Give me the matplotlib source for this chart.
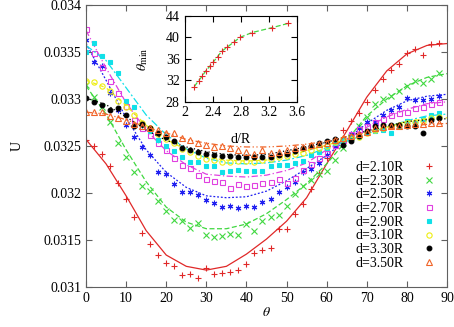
import numpy as np
import matplotlib
matplotlib.use("Agg")
from matplotlib import pyplot as plt
from matplotlib.ticker import FormatStrFormatter

plt.rcParams['font.family'] = ['Liberation Serif', 'DejaVu Serif']
plt.rcParams['font.size'] = 10
plt.rcParams['mathtext.fontset'] = 'stix'

# measured points, theta = 0, 2, ..., 88
theta = np.arange(0, 89, 2)
u_210 = [0.03256, 0.03250, 0.03242, 0.03229, 0.03211, 0.03194, 0.03174, 0.03157, 0.03146, 0.03134,
         0.03126, 0.03122, 0.03113, 0.03114, 0.03110, 0.03120, 0.03114, 0.03115, 0.03116, 0.03118,
         0.03124, 0.03136, 0.03139, 0.03141, 0.03162, 0.03162, 0.03178, 0.03188, 0.03204, 0.03221,
         0.03237, 0.03253, 0.03267, 0.03277, 0.03285, 0.03297, 0.03310, 0.03321, 0.03331, 0.03337,
         0.03349, 0.03353, 0.03347, 0.03359, 0.03360]
u_230 = [0.03315, 0.03302, 0.03291, 0.03276, 0.03253, 0.03238, 0.03222, 0.03207, 0.03202, 0.03191,
         0.03181, 0.03171, 0.03170, 0.03163, 0.03168, 0.03155, 0.03153, 0.03154, 0.03156, 0.03155,
         0.03167, 0.03160, 0.03170, 0.03174, 0.03177, 0.03186, 0.03199, 0.03207, 0.03214, 0.03220,
         0.03223, 0.03235, 0.03248, 0.03260, 0.03271, 0.03281, 0.03295, 0.03300, 0.03303, 0.03309,
         0.03314, 0.03319, 0.03317, 0.03321, 0.03328]
u_250 = [0.03363, 0.03339, 0.03335, 0.03306, 0.03288, 0.03272, 0.03260, 0.03249, 0.03240, 0.03222,
         0.03220, 0.03210, 0.03201, 0.03201, 0.03198, 0.03193, 0.03189, 0.03185, 0.03186, 0.03184,
         0.03186, 0.03185, 0.03190, 0.03194, 0.03201, 0.03206, 0.03212, 0.03222, 0.03226, 0.03232,
         0.03240, 0.03250, 0.03256, 0.03263, 0.03269, 0.03276, 0.03276, 0.03283, 0.03288, 0.03292,
         0.03301, 0.03299, 0.03299, 0.03300, 0.03303]
u_270 = [0.03374, 0.03349, 0.03334, 0.03319, 0.03306, 0.03293, 0.03278, 0.03269, 0.03262, 0.03253,
         0.03246, 0.03237, 0.03230, 0.03227, 0.03219, 0.03215, 0.03213, 0.03212, 0.03205, 0.03210,
         0.03207, 0.03208, 0.03211, 0.03212, 0.03215, 0.03211, 0.03216, 0.03224, 0.03231, 0.03237,
         0.03243, 0.03251, 0.03256, 0.03263, 0.03268, 0.03271, 0.03276, 0.03279, 0.03283, 0.03285,
         0.03286, 0.03290, 0.03291, 0.03295, 0.03297]
u_290 = [0.03350, 0.03360, 0.03346, 0.03339, 0.03328, 0.03298, 0.03291, 0.03272, 0.03266, 0.03256,
         0.03250, 0.03245, 0.03238, 0.03233, 0.03233, 0.03229, 0.03229, 0.03222, 0.03223, 0.03224,
         0.03223, 0.03223, 0.03223, 0.03229, 0.03230, 0.03230, 0.03232, 0.03234, 0.03240, 0.03244,
         0.03248, 0.03253, 0.03256, 0.03259, 0.03260, 0.03264, 0.03266, 0.03267, 0.03264, 0.03271,
         0.03277, 0.03274, 0.03279, 0.03283, 0.03285]
u_310 = [0.03319, 0.03318, 0.03314, 0.03309, 0.03298, 0.03291, 0.03283, 0.03274, 0.03269, 0.03263,
         0.03257, 0.03253, 0.03247, 0.03244, 0.03239, 0.03236, 0.03235, 0.03233, 0.03233, 0.03234,
         0.03234, 0.03233, 0.03235, 0.03236, 0.03238, 0.03239, 0.03241, 0.03243, 0.03246, 0.03248,
         0.03250, 0.03254, 0.03257, 0.03260, 0.03260, 0.03264, 0.03267, 0.03269, 0.03271, 0.03272,
         0.03274, 0.03276, 0.03277, 0.03280, 0.03281]
u_330 = [0.03301, 0.03297, 0.03294, 0.03288, 0.03290, 0.03283, 0.03271, 0.03273, 0.03269, 0.03264,
         0.03260, 0.03255, 0.03248, 0.03246, 0.03244, 0.03241, 0.03240, 0.03239, 0.03239, 0.03238,
         0.03238, 0.03238, 0.03238, 0.03238, 0.03240, 0.03241, 0.03245, 0.03248, 0.03250, 0.03253,
         0.03255, 0.03257, 0.03251, 0.03255, 0.03261, 0.03266, 0.03271, 0.03272, 0.03272, 0.03272,
         0.03271, 0.03271, 0.03264, 0.03278, 0.03280]
u_350 = [0.03286, 0.03286, 0.03286, 0.03282, 0.03280, 0.03277, 0.03273, 0.03271, 0.03269, 0.03267,
         0.03264, 0.03264, 0.03258, 0.03256, 0.03253, 0.03251, 0.03249, 0.03250, 0.03248, 0.03246,
         0.03244, 0.03241, 0.03246, 0.03243, 0.03244, 0.03246, 0.03248, 0.03249, 0.03251, 0.03252,
         0.03253, 0.03256, 0.03259, 0.03261, 0.03263, 0.03265, 0.03269, 0.03270, 0.03271, 0.03271,
         0.03272, 0.03273, 0.03273, 0.03274, 0.03274]

# fitted curves, read every 5 degrees
theta_fit = np.arange(0, 91, 5)
fit_210 = [0.03257, 0.03231, 0.03197, 0.03160, 0.03134, 0.03122, 0.03118, 0.03122, 0.03135, 0.03151,
           0.03170, 0.03195, 0.03231, 0.03266, 0.03302, 0.03330, 0.03348, 0.03357, 0.03359]
fit_230 = [0.03314, 0.03284, 0.03246, 0.03212, 0.03185, 0.03169, 0.03162, 0.03162, 0.03167, 0.03178,
           0.03193, 0.03210, 0.03231, 0.03256, 0.03282, 0.03300, 0.03314, 0.03323, 0.03327]
fit_250 = [0.03359, 0.03320, 0.03280, 0.03246, 0.03222, 0.03206, 0.03197, 0.03195, 0.03196, 0.03202,
           0.03213, 0.03226, 0.03240, 0.03257, 0.03274, 0.03288, 0.03298, 0.03303, 0.03305]
fit_270 = [0.03373, 0.03333, 0.03296, 0.03267, 0.03245, 0.03230, 0.03220, 0.03218, 0.03217, 0.03219,
           0.03224, 0.03232, 0.03246, 0.03257, 0.03270, 0.03281, 0.03289, 0.03295, 0.03297]
fit_290 = [0.03357, 0.03341, 0.03312, 0.03283, 0.03262, 0.03247, 0.03237, 0.03232, 0.03231, 0.03232,
           0.03235, 0.03240, 0.03248, 0.03255, 0.03263, 0.03270, 0.03277, 0.03282, 0.03284]
fit_310 = [0.03320, 0.03312, 0.03293, 0.03272, 0.03257, 0.03246, 0.03238, 0.03235, 0.03234, 0.03235,
           0.03239, 0.03245, 0.03251, 0.03257, 0.03264, 0.03270, 0.03276, 0.03279, 0.03280]
fit_330 = [0.03301, 0.03294, 0.03281, 0.03267, 0.03256, 0.03249, 0.03244, 0.03241, 0.03240, 0.03241,
           0.03245, 0.03249, 0.03254, 0.03260, 0.03266, 0.03271, 0.03276, 0.03278, 0.03279]
fit_350 = [0.03286, 0.03284, 0.03278, 0.03270, 0.03264, 0.03257, 0.03253, 0.03250, 0.03249, 0.03249,
           0.03250, 0.03252, 0.03255, 0.03260, 0.03264, 0.03268, 0.03271, 0.03273, 0.03274]

labels = ["d=2.10R", "d=2.30R", "d=2.50R", "d=2.70R", "d=2.90R", "d=3.10R", "d=3.30R", "d=3.50R"]

# inset: position of the minimum vs separation
d_over_r = [2.14, 2.20, 2.25, 2.30, 2.36, 2.41, 2.47, 2.53, 2.61, 2.70, 2.79, 2.96, 3.24, 3.47]
theta_min = [30.8, 31.9, 32.7, 33.7, 34.6, 35.4, 36.4, 37.4, 38.2, 39.1, 40.0, 40.9, 41.8, 42.6]

data = [u_210, u_230, u_250, u_270, u_290, u_310, u_330, u_350]
fits = [fit_210, fit_230, fit_250, fit_270, fit_290, fit_310, fit_330, fit_350]
colors = ['#e02828', '#40d840', '#2020f0', '#e040e0', '#10e0e8', '#eeee10', '#000000', '#f06428']
markers = ['+', 'x', (6, 2, 0), 's', 's', 'o', 'o', '^']
filled = [True, True, True, False, True, False, True, False]
sizes = [4.2, 3.8, 4.0, 3.6, 3.4, 3.8, 3.4, 3.8]
styles = ['-', (0, (4, 2)), (0, (1.5, 1.5)), (0, (5, 2, 1, 2)), (0, (6, 2, 1.5, 2)),
          (0, (3, 3)), (0, (1, 2)), (0, (5, 2, 1, 2, 1, 2))]

fig = plt.figure(figsize=(4.54, 3.27), dpi=100)
ax = fig.add_axes([0.1894, 0.1223, 0.7952, 0.8624])

handles = []
for u, f, c, m, fl, s, ls, lab in zip(data, fits, colors, markers, filled, sizes, styles, labels):
    ax.plot(theta_fit, f, color=c, lw=0.9, ls=ls)
    h, = ax.plot(theta, u, ls='none', marker=m, ms=s, color=c, mew=0.8,
                 mfc=c if fl else 'none', label=lab)
    handles.append(h)

ax.set_xlim(0, 90)
ax.set_ylim(0.031, 0.034)
ax.set_xticks(np.arange(0, 91, 10))
ax.set_yticks(np.arange(0.031, 0.03401, 0.0005))
ax.yaxis.set_major_formatter(FormatStrFormatter('%g'))
ax.tick_params(direction='in', length=4, top=True, right=True, color='#606060', labelsize=10)
for sp in ax.spines.values():
    sp.set_color('#606060')
ax.set_xlabel(r'$\theta$', labelpad=1)
ax.set_ylabel('U', labelpad=14)

leg = ax.legend(handles=handles, markerfirst=False, frameon=False, fontsize=10,
                loc='upper left', bbox_to_anchor=(0.767, 0.529), bbox_transform=fig.transFigure,
                handlelength=2.0, handletextpad=0.8, labelspacing=0.05, borderpad=0)

ins = fig.add_axes([0.4064, 0.6896, 0.2478, 0.2615])
ins.plot(d_over_r, theta_min, color='#40d840', lw=0.9, ls=(0, (4, 2)))
ins.plot(d_over_r, theta_min, ls='none', marker='+', ms=4.2, mew=0.8, color='#e02828')
ins.set_xlim(2, 3.6)
ins.set_ylim(28, 44)
ins.set_xticks([2, 2.4, 2.8, 3.2, 3.6])
ins.set_yticks([28, 32, 36, 40, 44])
ins.xaxis.set_major_formatter(FormatStrFormatter('%g'))
ins.tick_params(direction='in', length=4, top=True, right=True, labelsize=10)
ins.set_xlabel('d/R', labelpad=10)
ins.set_ylabel(r'$\theta_{\rm min}$', labelpad=11)

fig.savefig('out.png', dpi=100)
